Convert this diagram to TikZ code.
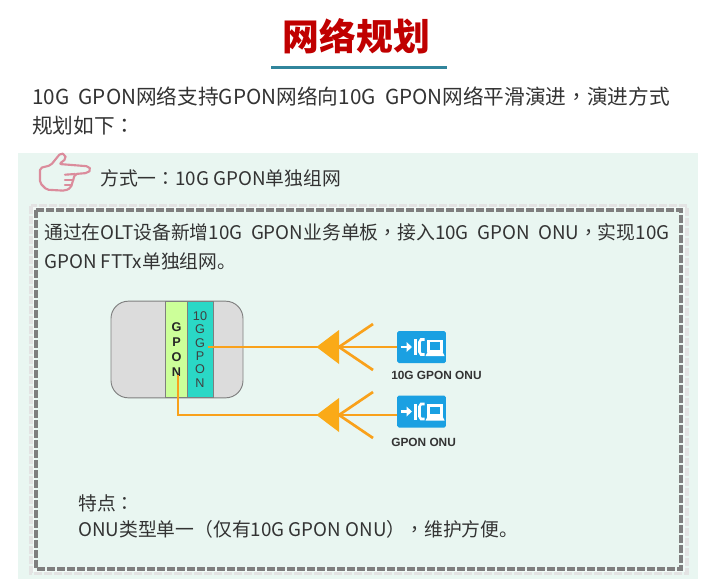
\documentclass[tikz,border=0pt]{standalone}
\usepackage{fontspec}
\setmainfont{Noto Sans CJK SC}
\newfontfamily\labelfont{Liberation Sans}
\newfontfamily\punctfont{Noto Sans CJK TC}
\usepackage{tikz}

\definecolor{panelgreen}{HTML}{E9F6F1}
\definecolor{titlered}{HTML}{C00000}
\definecolor{ruleteal}{HTML}{31859C}
\definecolor{bodytext}{HTML}{333333}
\definecolor{handpink}{HTML}{DB8C9C}
\definecolor{dashgray}{HTML}{7F7F7F}
\definecolor{chassisgray}{HTML}{DCDCDC}
\definecolor{gponlime}{HTML}{CCFF99}
\definecolor{xgponteal}{HTML}{2AD8C6}
\definecolor{linkorange}{HTML}{F9A11B}
\definecolor{onublue}{HTML}{1AA0E2}

\tikzset{
  bodytext/.style={anchor=west, inner sep=0pt, align=left, text=bodytext, font=\fontsize{15.5pt}{22pt}\selectfont},
  blade/.style={draw=dashgray, line width=0.7pt, minimum width=#1, inner sep=0pt, minimum height=72.5pt, align=center},
  onubox/.style={fill=onublue, rounded corners=1.2pt, minimum width=36.5pt, minimum height=24pt, inner sep=0pt},
  onulabel/.style={anchor=west, inner sep=0pt, text=bodytext, font=\labelfont\bfseries\fontsize{8.9pt}{10pt}\selectfont},
  link/.style={draw=linkorange, line width=2pt},
  hand/.style={draw=handpink, line width=1.6pt, line join=round, line cap=round}
}

\newcommand{\pc}{{\punctfont ，}}
\newcommand{\pk}{{\punctfont ：}}
\newcommand{\onuglyph}[1]{
  \begin{scope}[shift={(#1)}, white]
    \draw[line width=2pt] (-21,0) -- (-13,0);
    \fill (-15,-5) -- (-9.5,0) -- (-15,5) -- cycle;
    \fill (-8,-8) rectangle (-4.5,8);
    \draw[line width=1.9pt] (3,-7.5) -- (-0.5,-7.5) -- (-2,-5) -- (-2,5) -- (-0.5,7.5) -- (3,7.5);
    \draw[line width=2pt] (7,-6) rectangle (20,4);
    \fill (6,5) -- (21,5) -- (23,9) -- (4,9) -- cycle;
  \end{scope}
}

\begin{document}
\begin{tikzpicture}[x=0.75pt, y=-0.75pt]
    \useasboundingbox (0,0) rectangle (709,579);

    % Title
    \node[inner sep=0pt, text=titlered, font=\fontsize{27.6pt}{30pt}\bfseries\selectfont] (title) at (356.5,36) {网络规划};
    \coordinate (ruleleft) at (271,67.5);
    \coordinate (ruleright) at (447,67.5);
    \draw[ruleteal, line width=2pt] (ruleleft) -- (ruleright);

    \node[bodytext] (intro) at (32,111) {10G\ \ GPON网络支持GPON网络向10G\ \ GPON网络平滑演进\pc 演进方式\\规划如下\pk};

    % Panel
    \fill[panelgreen] (18,153) rectangle (698,579);
    \draw[dashgray!22, line width=3.5pt, dash pattern=on 6pt off 1.5pt] (31,206) rectangle (687,573);
    \draw[panelgreen!60!white, line width=1.5pt] (33.5,208) rectangle (684,571);
    \draw[dashgray, line width=2.4pt, dash pattern=on 6pt off 1.5pt] (36,210) rectangle (681,569);

    % Hand
    \draw[hand, rounded corners=1.5pt] (40,168) -- (40,183) -- (46.7,189.7) -- (65,190.7) -- (70.7,188) -- (75,174)
        -- (87.3,173) -- (91,169.7) -- (88.3,166.3) -- (59.3,164) -- (66,158.7) -- (65,154.7) -- (60.7,153) -- (50.7,165.3) -- cycle;
    \draw[hand] (65,174.7) -- (75,174);
    \draw[hand] (65,179.7) -- (73.3,179.7);
    \draw[hand] (65,184.7) -- (71.7,184.7);

    \node[anchor=west, inner sep=0pt, text=bodytext, font=\fontsize{14.1pt}{16pt}\selectfont] (method) at (100,178) {方式一\pk 10G GPON单独组网};
    \node[bodytext, font=\fontsize{14.1pt}{21.75pt}\selectfont] (desc) at (44,246.5) {通过在OLT设备新增10G\ \ GPON业务单板\pc 接入10G\ \ GPON\ \ ONU\pc 实现10G\\GPON FTTx单独组网。};

    % OLT
    \node[draw=dashgray, fill=chassisgray, line width=0.7pt, rounded corners=13pt, minimum width=99pt, minimum height=72.5pt, inner sep=0pt] (olt) at (177,349.5) {};
    \node[blade=16pt, fill=gponlime, text=black!85, font=\labelfont\bfseries\fontsize{9.5pt}{11.2pt}\selectfont] (gpon) at (176.5,349.5) {G\\P\\O\\N};
    \node[blade=19.5pt, fill=xgponteal, text=black!75, font=\labelfont\fontsize{9.5pt}{10pt}\selectfont] (xgpon) at (200,349.5) {10\\G\\G\\P\\O\\N};

    % ONUs
    \node[onubox] (onuxg) at (421.5,347) {};
    \node[onubox] (onug) at (421.5,411.5) {};
    \onuglyph{onuxg.center}
    \onuglyph{onug.center}
    \node[onulabel] (onuxglabel) at (391,375) {10G GPON ONU};
    \node[onulabel] (onuglabel) at (391,442) {GPON ONU};

    % Links
    \coordinate (xgout) at (208,347);
    \coordinate (gout) at (178,375);
    \coordinate (gturn) at (178,415);
    \draw[link] (xgout) -- (onuxg.west);
    \draw[link] (gout) -- (gturn) -- (gturn -| onug.west);
    \foreach \y in {347,415} {
        \fill[linkorange!90!yellow] (316.5,\y) -- (339,\y-17) -- (339,\y+17) -- cycle;
        \draw[link] (339,\y) -- (373,\y-23);
        \draw[link] (339,\y) -- (373,\y+23);
    }

    % Features
    \node[bodytext, font=\fontsize{14.1pt}{20.2pt}\selectfont] (features) at (78,516.5) {特点\pk\\ONU类型单一（仅有10G GPON ONU）\pc 维护方便。};
\end{tikzpicture}
\end{document}
